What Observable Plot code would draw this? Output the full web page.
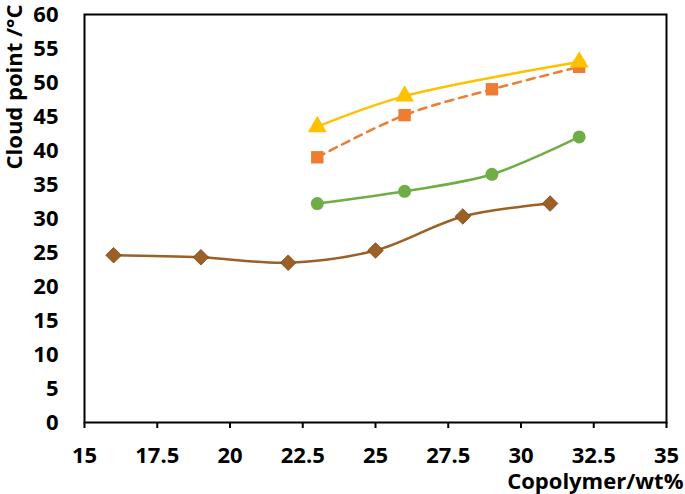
<!DOCTYPE html>
<html><head><meta charset="utf-8">
<script src="https://cdn.jsdelivr.net/npm/d3@7"></script>
<script src="https://cdn.jsdelivr.net/npm/@observablehq/plot@0.6"></script>
<style>body{margin:0;background:#fff}</style>
</head><body><div id="chart"></div>
<script>
const xTicks = [15, 17.5, 20, 22.5, 25, 27.5, 30, 32.5, 35];
const yTicks = [0, 5, 10, 15, 20, 25, 30, 35, 40, 45, 50, 55, 60];
const brownX = [16, 19, 22, 25, 28, 31];
const brownY = [24.6, 24.3, 23.5, 25.3, 30.3, 32.2];
const greenX = [23, 26, 29, 32];
const greenY = [32.2, 34.0, 36.5, 42.0];
const orangeX = [23, 26, 29, 32];
const orangeY = [39.0, 45.2, 49.0, 52.3];
const yellowX = [23, 26, 32];
const yellowY = [43.5, 48.0, 53.0];
const xLabel = "Copolymer/wt%";
const yLabel = "Cloud point /°C";

const toRows = (xs, ys) => xs.map((x, i) => ({x, y: ys[i]}));
const brown = toRows(brownX, brownY), green = toRows(greenX, greenY),
      orange = toRows(orangeX, orangeY), yellow = toRows(yellowX, yellowY);
const C = {brown: "#9C5F25", green: "#70AD47", orange: "#ED7D31", yellow: "#FFC000"};
const font = "'Open Sans', sans-serif";

const chart = Plot.plot({
  width: 685, height: 494,
  marginLeft: 84, marginRight: 19, marginTop: 14, marginBottom: 72,
  style: {fontFamily: font, fontSize: "22px", fontWeight: "bold", color: "#000", background: "#fff"},
  x: {domain: [15, 35]},
  y: {domain: [0, 60]},
  marks: [
    Plot.axisX({ticks: xTicks, tickFormat: d => String(d), tickSize: 6, tickPadding: 19, strokeWidth: 2, label: null}),
    Plot.axisY({ticks: yTicks, tickFormat: d => String(d), tickSize: 0, tickPadding: 26, label: null}),
    Plot.frame({stroke: "#000", strokeWidth: 2}),
    Plot.line(brown, {x: "x", y: "y", stroke: C.brown, strokeWidth: 2.5, curve: "catmull-rom"}),
    Plot.line(green, {x: "x", y: "y", stroke: C.green, strokeWidth: 2.5, curve: "catmull-rom"}),
    Plot.line(orange, {x: "x", y: "y", stroke: C.orange, strokeWidth: 2.5, strokeDasharray: "8,6", curve: "catmull-rom"}),
    Plot.line(yellow, {x: "x", y: "y", stroke: C.yellow, strokeWidth: 2.5, curve: "catmull-rom"}),
    Plot.dot(brown, {x: "x", y: "y", symbol: "diamond2", r: 7, fill: C.brown, stroke: "#7a4516", strokeWidth: 0.8}),
    Plot.dot(green, {x: "x", y: "y", symbol: "circle", r: 6.5, fill: C.green}),
    Plot.dot(orange, {x: "x", y: "y", symbol: "square", r: 7, fill: C.orange}),
    Plot.dot(yellow, {x: "x", y: "y", symbol: "triangle", r: 7, fill: C.yellow}),
    Plot.text([xLabel], {frameAnchor: "bottom-right", dx: 17, dy: 59, lineAnchor: "middle", textAnchor: "end", fontSize: 22, fontWeight: "bold", fill: "#000"}),
    Plot.text([yLabel], {frameAnchor: "top-left", dx: -70, dy: -10, rotate: -90, textAnchor: "end", lineAnchor: "middle", fontSize: 22, fontWeight: "bold", fill: "#000"})
  ]
});
document.getElementById("chart").appendChild(chart);
</script></body></html>
